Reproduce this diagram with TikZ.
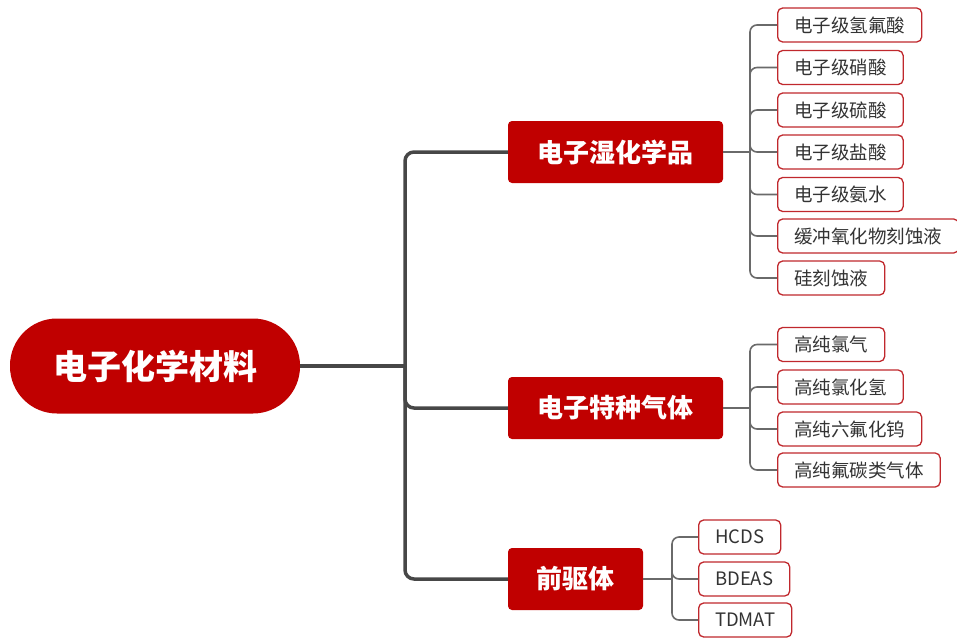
\documentclass[tikz,border=0pt]{standalone}
\usepackage{fontspec}
\newfontfamily\cjk{Noto Sans CJK SC}
\definecolor{mainred}{HTML}{C00000}
\definecolor{leafred}{HTML}{C0282D}
\definecolor{trunkgray}{HTML}{474747}
\definecolor{leafgray}{HTML}{6A6A6A}
\definecolor{leaftext}{HTML}{333333}
\begin{document}
\begin{tikzpicture}[x=1pt,y=-1pt,
  rootbox/.style={fill=mainred, draw=none, rounded corners=47pt, minimum width=290pt, minimum height=95pt,
    text=white, font=\cjk\bfseries\fontsize{34}{40}\selectfont, inner sep=0pt},
  branchbox/.style={fill=mainred, draw=none, rounded corners=4pt, minimum height=62pt,
    text=white, font=\cjk\bfseries\fontsize{26}{30}\selectfont, inner sep=0pt},
  leafbox/.style={fill=white, draw=leafred, line width=1.3pt, rounded corners=5pt, minimum height=34pt,
    inner xsep=16.5pt, inner ysep=0pt, anchor=west, text=leaftext, font=\cjk\fontsize{18.5}{22}\selectfont},
  trunk/.style={draw=trunkgray, line width=3.5pt, rounded corners=9pt},
  twig/.style={draw=leafgray, line width=1.6pt, rounded corners=7pt}
]
\useasboundingbox (0,0) rectangle (957,637);

% root
\node[rootbox] (root) at (155,366) {电子化学材料};

% branches
\node[branchbox, minimum width=215pt] (b1) at (615.5,152) {电子湿化学品};
\node[branchbox, minimum width=215pt] (b2) at (615.5,408) {电子特种气体};
\node[branchbox, minimum width=135pt] (b3) at (575.5,579) {前驱体};

% trunk
\coordinate (t) at (405,366);
\draw[trunk] (root.east) -- (t);
\draw[trunk] (t) |- (b1.west);
\draw[trunk] (t) |- (b2.west);
\draw[trunk] (t) |- (b3.west);

% leaves of branch 1
\node[leafbox] (l11) at (777,25) {电子级氢氟酸};
\node[leafbox] (l12) at (777,67.5) {电子级硝酸};
\node[leafbox] (l13) at (777,110) {电子级硫酸};
\node[leafbox] (l14) at (777,152) {电子级盐酸};
\node[leafbox] (l15) at (777,194.5) {电子级氨水};
\node[leafbox] (l16) at (777,236) {缓冲氧化物刻蚀液};
\node[leafbox] (l17) at (777,278) {硅刻蚀液};

\coordinate (f1) at (750,152);
\draw[twig] (b1.east) -- (f1);
\foreach \n in {l11,l12,l13,l14,l15,l16,l17}
  \draw[twig] (f1) |- (\n.west);

% leaves of branch 2
\node[leafbox] (l21) at (777,344.5) {高纯氯气};
\node[leafbox] (l22) at (777,387) {高纯氯化氢};
\node[leafbox] (l23) at (777,429) {高纯六氟化钨};
\node[leafbox] (l24) at (777,470) {高纯氟碳类气体};

\coordinate (f2) at (750,408);
\draw[twig] (b2.east) -- (f2);
\foreach \n in {l21,l22,l23,l24}
  \draw[twig] (f2) |- (\n.west);

% leaves of branch 3
\node[leafbox] (l31) at (698,537) {HCDS};
\node[leafbox] (l32) at (698,579) {BDEAS};
\node[leafbox] (l33) at (698,620) {TDMAT};

\coordinate (f3) at (672,579);
\draw[twig] (b3.east) -- (f3);
\foreach \n in {l31,l32,l33}
  \draw[twig] (f3) |- (\n.west);
\end{tikzpicture}
\end{document}
